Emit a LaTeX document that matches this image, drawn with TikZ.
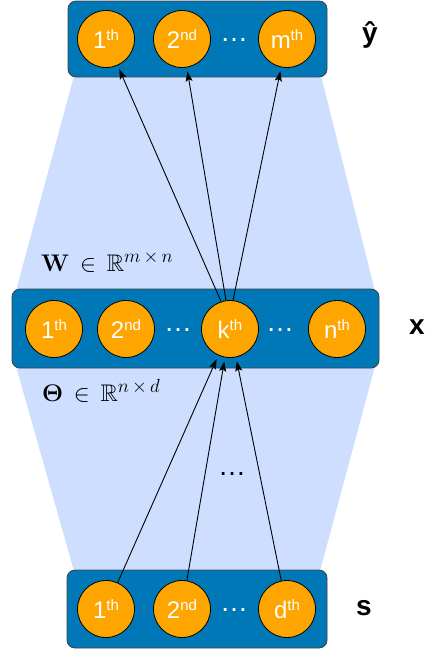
\documentclass[tikz,border=0pt]{standalone}
\usepackage{fix-cm}
\usepackage{amsmath, amssymb}
\usepackage[no-math]{fontspec}
\setsansfont{Liberation Sans}
\usetikzlibrary{arrows.meta, positioning, calc, backgrounds}
\definecolor{layerblue}{RGB}{0,119,182}
\definecolor{unitorange}{RGB}{255,165,0}
\definecolor{spanblue}{RGB}{205,222,255}
\DeclareMathSizes{24}{24}{19}{15}
\newcommand{\ordlabel}[2]{#1\raisebox{7.5pt}{\fontsize{15}{15}\selectfont #2}}
\tikzset{
  layerbox/.style={
    rectangle, rounded corners=8pt, inner sep=0pt,
    draw=black!75, line width=0.8pt, fill=layerblue
  },
  unit/.style={
    circle, draw=black, line width=0.8pt, fill=unitorange,
    minimum size=57pt, inner sep=0pt, text=white,
    font=\sffamily\fontsize{24}{24}\selectfont
  },
  dotsW/.style={text=white, inner sep=0pt, font=\sffamily\fontsize{28}{28}\selectfont},
  dotsB/.style={dotsW, text=black},
  layername/.style={inner sep=0pt, font=\sffamily\bfseries\fontsize{28}{28}\selectfont},
  weightlabel/.style={inner sep=0pt, font=\fontsize{24}{24}\selectfont},
  conn/.style={-{Stealth[length=10pt,width=7pt,inset=2pt]}, line width=0.9pt, black, shorten >=4pt}
}

\begin{document}
\begin{tikzpicture}[x=1pt, y=-1pt]
  \useasboundingbox (0,0) rectangle (427,651);

  % Draw layer boxes
  \node[layerbox, minimum width=259pt, minimum height=76pt] (ybox) at (197.5,39) {};
  \node[layerbox, minimum width=367pt, minimum height=79pt] (xbox) at (195.5,328.5) {};
  \node[layerbox, minimum width=260pt, minimum height=78pt] (sbox) at (197,609) {};

  % Draw output units
  \node[unit] (y1) at (106,39) {\ordlabel{1}{th}};
  \node[unit] (y2) at (182,39) {\ordlabel{2}{nd}};
  \node[unit] (ym) at (287,39) {\ordlabel{m}{th}};
  \node[dotsW] (ydots) at (234,40) {…};

  % Draw hidden units
  \node[unit] (x1) at (54,329) {\ordlabel{1}{th}};
  \node[unit] (x2) at (126,329) {\ordlabel{2}{nd}};
  \node[unit] (xk) at (230,329) {\ordlabel{k}{th}};
  \node[unit] (xn) at (337,329) {\ordlabel{n}{th}};
  \node[dotsW] (xdotsA) at (178,330) {…};
  \node[dotsW] (xdotsB) at (280,330) {…};

  % Draw input units
  \node[unit] (s1) at (106,609) {\ordlabel{1}{th}};
  \node[unit] (s2) at (182,609) {\ordlabel{2}{nd}};
  \node[unit] (sd) at (287,609) {\ordlabel{d}{th}};
  \node[dotsW] (sdots) at (234,610) {…};

  % Layer names
  \node[layername, anchor=base] (yname) at (370,42) {ŷ};
  \node[layername, anchor=base] (xname) at (417,334) {x};
  \node[layername, anchor=base] (sname) at (364,615) {s};

  % Weight labels
  \node[weightlabel, anchor=base west] (wlabel) at (41,271)
    {$\mathbf{W}\mathrel{\,\in\,}\mathbb{R}^{m\mkern3mu\times\mkern3mu n}$};
  \node[weightlabel, anchor=base west] (tlabel) at (42,401)
    {$\mathbf{\Theta}\mathrel{\,\in\,}\mathbb{R}^{n\mkern3mu\times\mkern3mu d}$};

  % Connections from k-th hidden unit
  \draw[conn] (xk.108) -- (y1);
  \draw[conn] (xk.98) -- (y2);
  \draw[conn] (xk.84) -- (ym);
  \draw[conn] (s1) -- (xk.246);
  \draw[conn] (s2) -- (xk.260);
  \draw[conn] (sd) -- (xk.282);
  \node[dotsB] (middots) at (232,474) {…};

  % Shaded span behind the layers
  \begin{pgfonlayer}{background}
    \fill[spanblue] ($(ybox.south west)+(6,0)$) -- ($(xbox.north west)+(5,0)$)
      -- ($(xbox.south west)+(5,0)$) -- ($(sbox.north west)+(7,0)$)
      -- ($(sbox.north east)+(-7,0)$) -- ($(xbox.south east)+(-5,0)$)
      -- ($(xbox.north east)+(-5,0)$) -- ($(ybox.south east)+(-6,0)$) -- cycle;
  \end{pgfonlayer}
\end{tikzpicture}
\end{document}
